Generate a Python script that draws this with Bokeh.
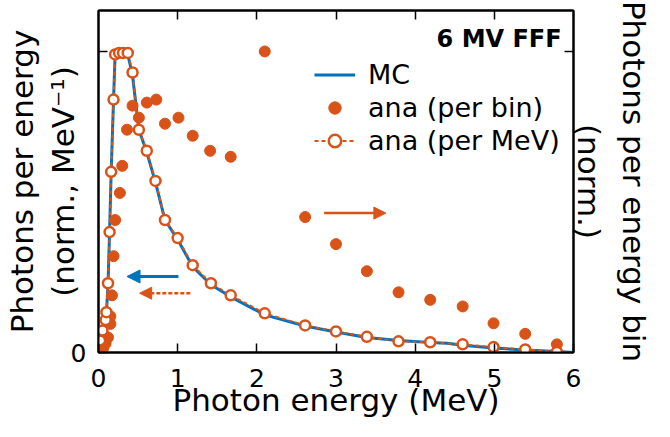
import math
from bokeh.plotting import figure
from bokeh.models import (Range1d, LinearAxis, FixedTicker, Label, Arrow,
                          NormalHead, Legend, LegendItem, CustomJSTickFormatter)
from bokeh.embed import file_html
from bokeh.resources import INLINE

# ---------------- data ----------------
mc_x = [0.0, 0.02, 0.05, 0.09, 0.10, 0.12, 0.14, 0.16, 0.19, 0.21, 0.26, 0.31,
        0.37, 0.43, 0.51, 0.61, 0.72, 0.84, 1.00, 1.19, 1.42, 1.67, 2.10, 2.61,
        3.00, 3.39, 3.79, 4.19, 4.40, 4.60, 4.99, 5.39, 5.79, 6.00]
mc_y = [0.0, 0.035, 0.07, 0.105, 0.13, 0.225, 0.40, 0.60, 0.84, 0.99, 0.995, 0.995,
        0.99, 0.92, 0.74, 0.665, 0.565, 0.44, 0.375, 0.285, 0.225, 0.185, 0.125, 0.088,
        0.068, 0.05, 0.04, 0.033, 0.031, 0.024, 0.015, 0.008, 0.003, 0.0]

mev_x = [0.02, 0.05, 0.09, 0.10, 0.12, 0.14, 0.16, 0.19, 0.21, 0.26, 0.31, 0.37,
         0.43, 0.51, 0.61, 0.72, 0.84, 1.00, 1.19, 1.42, 1.67, 2.10, 2.61, 3.00,
         3.39, 3.79, 4.19, 4.60, 4.99, 5.39, 5.79]
mev_y = [0.04, 0.073, 0.108, 0.134, 0.23, 0.40, 0.60, 0.84, 0.99, 0.995, 0.995, 0.995,
         0.93, 0.74, 0.67, 0.57, 0.44, 0.38, 0.29, 0.23, 0.19, 0.13, 0.09, 0.07,
         0.052, 0.037, 0.034, 0.027, 0.018, 0.010, 0.002]

bin_x = [0.03, 0.06, 0.09, 0.12, 0.15, 0.15, 0.17, 0.19, 0.21, 0.27, 0.30, 0.36,
         0.43, 0.51, 0.61, 0.73, 0.84, 1.01, 1.19, 1.41, 1.67, 2.10, 2.61, 3.00,
         3.39, 3.79, 4.19, 4.60, 4.99, 5.39, 5.79]
bin_y = [0.005, 0.015, 0.03, 0.05, 0.095, 0.12, 0.19, 0.32, 0.44, 0.53, 0.62, 0.74,
         0.82, 0.78, 0.83, 0.84, 0.76, 0.78, 0.72, 0.67, 0.65, 1.00, 0.45, 0.36,
         0.27, 0.20, 0.175, 0.153, 0.097, 0.062, 0.027]

x_ticks = [0, 1, 2, 3, 4, 5, 6]
y_ticks = [0, 1]
top_ticks = [1, 2, 3, 4, 5]

series_labels = ["MC", "ana (per bin)", "ana (per MeV)"]
x_title = "Photon energy (MeV)"
y_left_title = "Photons per energy\n(norm., MeV\u207b\u00b9)"
y_right_title = "Photons per energy bin\n(norm.)"
beam_label = "6 MV FFF"

# arrows: (x_start, x_end, y)
arrow_mc = (1.01, 0.36, 0.2525)
arrow_mev = (1.16, 0.52, 0.197)
arrow_bin = (2.85, 3.63, 0.463)

BLUE = "#0072BD"
ORANGE = "#D95319"
FONT = "DejaVu Sans"

p = figure(width=654, height=421, x_range=Range1d(0, 6), y_range=Range1d(0, 1.136),
           output_backend="svg", toolbar_location=None,
           min_border_left=96, min_border_right=72, min_border_top=10,
           min_border_bottom=69, background_fill_color="white",
           border_fill_color="white")
p.grid.visible = False
p.outline_line_color = "black"
p.outline_line_width = 2

# bottom axis
xa = p.xaxis[0]
xa.ticker = FixedTicker(ticks=x_ticks)
# left axis
ya = p.yaxis[0]
ya.ticker = FixedTicker(ticks=y_ticks)
ya.major_label_overrides = {1: ""}

for ax in (xa, ya):
    ax.major_tick_in = 9
    ax.major_tick_out = 0
    ax.minor_tick_line_color = None
    ax.axis_line_width = 2
    ax.major_tick_line_width = 1.5
    ax.major_label_text_font = FONT
    ax.major_label_text_font_size = "25px"
    ax.major_label_text_color = "black"
    ax.axis_label_text_font = FONT
    ax.axis_label_text_font_style = "normal"
    ax.axis_label_text_color = "black"

xa.major_label_standoff = 16
xa.axis_label = x_title
xa.axis_label_text_font_size = "31px"
xa.axis_label_text_line_height = 1.0
xa.axis_label_standoff = -8

ya.major_label_standoff = 12
ya.axis_label = y_left_title
ya.axis_label_text_font_size = "31px"
ya.axis_label_text_line_height = 1.13
ya.axis_label_standoff = -13

blank = CustomJSTickFormatter(code="return ''")
top_ax = LinearAxis(ticker=FixedTicker(ticks=top_ticks), formatter=blank)
right_ax = LinearAxis(ticker=FixedTicker(ticks=[1]), formatter=blank)
for ax in (top_ax, right_ax):
    ax.major_tick_in = 9
    ax.major_tick_out = 0
    ax.minor_tick_line_color = None
    ax.major_tick_line_width = 1.5
    ax.axis_line_width = 2
    ax.major_label_text_font_size = "1px"
    ax.major_label_standoff = 0
right_ax.axis_label = y_right_title
right_ax.axis_label_text_font = FONT
right_ax.axis_label_text_font_style = "normal"
right_ax.axis_label_text_font_size = "31px"
right_ax.axis_label_text_color = "black"
right_ax.axis_label_text_line_height = 1.26
right_ax.axis_label_standoff = -3
p.add_layout(top_ax, "above")
p.add_layout(right_ax, "right")

# data renderers
r_mc = p.line(mc_x, mc_y, line_color=BLUE, line_width=3)
r_bin = p.scatter(bin_x, bin_y, marker="circle", size=11, fill_color=ORANGE,
                  line_color=ORANGE)
r_mev_l = p.line(mev_x, mev_y, line_color=ORANGE, line_width=2, line_dash="4 3")
r_mev_c = p.scatter(mev_x, mev_y, marker="circle", size=10, fill_color="white",
                    line_color=ORANGE, line_width=2.5)

legend = Legend(items=[LegendItem(label=series_labels[0], renderers=[r_mc]),
                       LegendItem(label=series_labels[1], renderers=[r_bin]),
                       LegendItem(label=series_labels[2], renderers=[r_mev_l, r_mev_c])],
                location=(216, 196), border_line_color=None, background_fill_alpha=0,
                padding=0, margin=0, spacing=2, glyph_width=41, glyph_height=31,
                label_height=31, label_standoff=13, label_text_font=FONT,
                label_text_font_size="27px", label_text_color="black")
p.add_layout(legend)

# arrows
p.add_layout(Arrow(end=NormalHead(size=13, fill_color=BLUE, line_color=BLUE),
                   x_start=arrow_mc[0], x_end=arrow_mc[1], y_start=arrow_mc[2],
                   y_end=arrow_mc[2], line_color=BLUE, line_width=3))
p.add_layout(Arrow(end=NormalHead(size=12, fill_color=ORANGE, line_color=ORANGE),
                   x_start=arrow_mev[0], x_end=arrow_mev[1], y_start=arrow_mev[2],
                   y_end=arrow_mev[2], line_color=ORANGE, line_width=2.5,
                   line_dash="4 2"))
p.add_layout(Arrow(end=NormalHead(size=12, fill_color=ORANGE, line_color=ORANGE),
                   x_start=arrow_bin[0], x_end=arrow_bin[1], y_start=arrow_bin[2],
                   y_end=arrow_bin[2], line_color=ORANGE, line_width=2.5))

p.add_layout(Label(x=5.85, y=1.04, text=beam_label, text_align="right",
                   text_baseline="alphabetic", text_font=FONT, text_font_size="24px",
                   text_font_style="bold", text_color="black"))

open("out.html", "w").write(file_html(p, INLINE))
